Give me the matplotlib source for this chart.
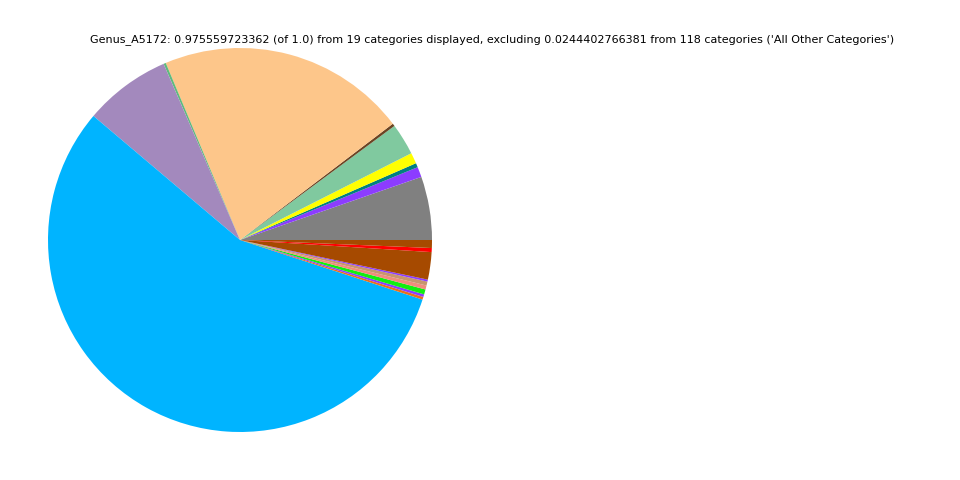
import numpy as np
import matplotlib.pyplot as plt

# slice fractions (of 1.0), counterclockwise from 3 o'clock
values = [0.0520, 0.0084, 0.0035, 0.0089, 0.0260, 0.0022, 0.2046, 0.0019,
          0.0713, 0.5479, 0.0022, 0.0022, 0.0041, 0.0033, 0.0033, 0.0016,
          0.0225, 0.0033, 0.0065]
colors = ["#808080", "#8c3cff", "#008080", "#ffff00", "#80c99f", "#6b4423",
          "#fdc68a", "#5fba7d", "#a389bd", "#00b4ff", "#e8701a", "#8c3cff",
          "#11ee11", "#f08c7c", "#c8956d", "#8c3cff", "#a64a00", "#ff0000",
          "#a64a00"]
title = ("Genus_A5172: 0.975559723362 (of 1.0) from 19 categories displayed, "
         "excluding 0.0244402766381 from 118 categories ('All Other Categories')")

fig = plt.figure(figsize=(9.6, 4.8), dpi=100)
ax = fig.add_axes([48/960, 48/480, 384/960, 384/480])
ax.pie(values, colors=colors, startangle=0, counterclock=True)
ax.set_xlim(-1, 1)
ax.set_ylim(-1, 1)
ax.set_aspect("equal")
ax.axis("off")

fig.text(492/960, 1 - 40/480, title, ha="center", va="center", fontsize=8)

fig.savefig("out.png", dpi=100)
